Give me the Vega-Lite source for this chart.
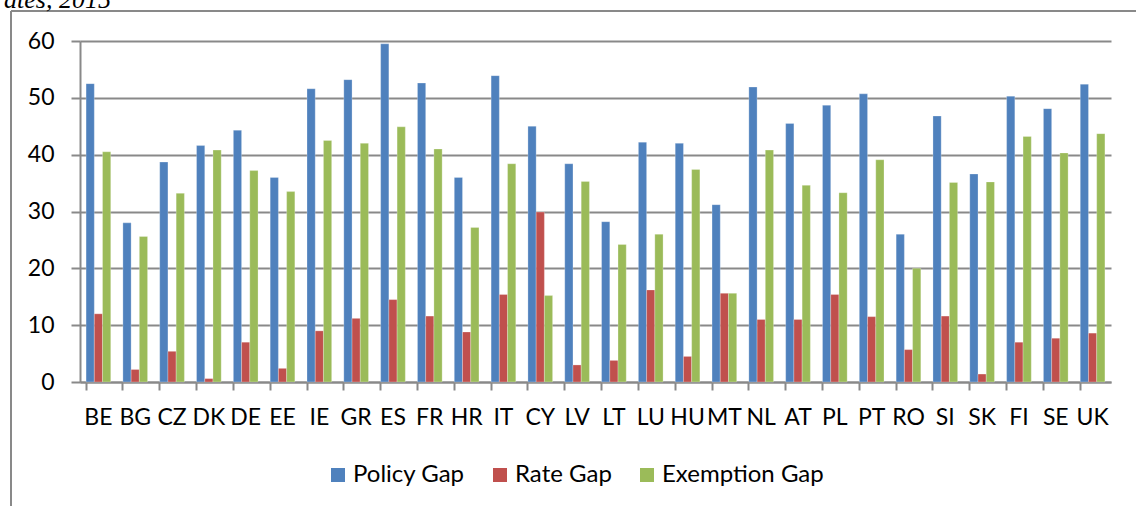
{
  "$schema": "https://vega.github.io/schema/vega-lite/v6.json",
  "autosize": {"type": "none"},
  "width": 1125,
  "height": 495,
  "padding": {"left": 11, "top": 11, "right": 0, "bottom": 0},
  "background": "white",
  "title": {
    "text": "ates, 2015",
    "anchor": "start",
    "frame": "group",
    "font": "Liberation Serif",
    "fontStyle": "italic",
    "fontWeight": "normal",
    "fontSize": 26,
    "color": "#000000",
    "baseline": "alphabetic",
    "offset": 6,
    "dx": -7,
    "dy": 29
  },
  "data": {
    "values": [
      {"country": "BE", "gap": "Policy Gap", "value": 52.5},
      {"country": "BE", "gap": "Rate Gap", "value": 12.0},
      {"country": "BE", "gap": "Exemption Gap", "value": 40.5},
      {"country": "BG", "gap": "Policy Gap", "value": 28.0},
      {"country": "BG", "gap": "Rate Gap", "value": 2.2},
      {"country": "BG", "gap": "Exemption Gap", "value": 25.6},
      {"country": "CZ", "gap": "Policy Gap", "value": 38.7},
      {"country": "CZ", "gap": "Rate Gap", "value": 5.4},
      {"country": "CZ", "gap": "Exemption Gap", "value": 33.2},
      {"country": "DK", "gap": "Policy Gap", "value": 41.6},
      {"country": "DK", "gap": "Rate Gap", "value": 0.6},
      {"country": "DK", "gap": "Exemption Gap", "value": 40.8},
      {"country": "DE", "gap": "Policy Gap", "value": 44.3},
      {"country": "DE", "gap": "Rate Gap", "value": 7.0},
      {"country": "DE", "gap": "Exemption Gap", "value": 37.2},
      {"country": "EE", "gap": "Policy Gap", "value": 36.0},
      {"country": "EE", "gap": "Rate Gap", "value": 2.4},
      {"country": "EE", "gap": "Exemption Gap", "value": 33.5},
      {"country": "IE", "gap": "Policy Gap", "value": 51.6},
      {"country": "IE", "gap": "Rate Gap", "value": 9.0},
      {"country": "IE", "gap": "Exemption Gap", "value": 42.5},
      {"country": "GR", "gap": "Policy Gap", "value": 53.2},
      {"country": "GR", "gap": "Rate Gap", "value": 11.2},
      {"country": "GR", "gap": "Exemption Gap", "value": 42.0},
      {"country": "ES", "gap": "Policy Gap", "value": 59.5},
      {"country": "ES", "gap": "Rate Gap", "value": 14.5},
      {"country": "ES", "gap": "Exemption Gap", "value": 44.9},
      {"country": "FR", "gap": "Policy Gap", "value": 52.6},
      {"country": "FR", "gap": "Rate Gap", "value": 11.6},
      {"country": "FR", "gap": "Exemption Gap", "value": 41.0},
      {"country": "HR", "gap": "Policy Gap", "value": 36.0},
      {"country": "HR", "gap": "Rate Gap", "value": 8.8},
      {"country": "HR", "gap": "Exemption Gap", "value": 27.2},
      {"country": "IT", "gap": "Policy Gap", "value": 53.9},
      {"country": "IT", "gap": "Rate Gap", "value": 15.4},
      {"country": "IT", "gap": "Exemption Gap", "value": 38.4},
      {"country": "CY", "gap": "Policy Gap", "value": 45.0},
      {"country": "CY", "gap": "Rate Gap", "value": 29.9},
      {"country": "CY", "gap": "Exemption Gap", "value": 15.2},
      {"country": "LV", "gap": "Policy Gap", "value": 38.4},
      {"country": "LV", "gap": "Rate Gap", "value": 3.0},
      {"country": "LV", "gap": "Exemption Gap", "value": 35.3},
      {"country": "LT", "gap": "Policy Gap", "value": 28.2},
      {"country": "LT", "gap": "Rate Gap", "value": 3.8},
      {"country": "LT", "gap": "Exemption Gap", "value": 24.2},
      {"country": "LU", "gap": "Policy Gap", "value": 42.2},
      {"country": "LU", "gap": "Rate Gap", "value": 16.2},
      {"country": "LU", "gap": "Exemption Gap", "value": 26.0},
      {"country": "HU", "gap": "Policy Gap", "value": 42.0},
      {"country": "HU", "gap": "Rate Gap", "value": 4.5},
      {"country": "HU", "gap": "Exemption Gap", "value": 37.4},
      {"country": "MT", "gap": "Policy Gap", "value": 31.2},
      {"country": "MT", "gap": "Rate Gap", "value": 15.6},
      {"country": "MT", "gap": "Exemption Gap", "value": 15.6},
      {"country": "NL", "gap": "Policy Gap", "value": 51.9},
      {"country": "NL", "gap": "Rate Gap", "value": 11.0},
      {"country": "NL", "gap": "Exemption Gap", "value": 40.8},
      {"country": "AT", "gap": "Policy Gap", "value": 45.5},
      {"country": "AT", "gap": "Rate Gap", "value": 11.0},
      {"country": "AT", "gap": "Exemption Gap", "value": 34.6},
      {"country": "PL", "gap": "Policy Gap", "value": 48.7},
      {"country": "PL", "gap": "Rate Gap", "value": 15.4},
      {"country": "PL", "gap": "Exemption Gap", "value": 33.3},
      {"country": "PT", "gap": "Policy Gap", "value": 50.7},
      {"country": "PT", "gap": "Rate Gap", "value": 11.5},
      {"country": "PT", "gap": "Exemption Gap", "value": 39.1},
      {"country": "RO", "gap": "Policy Gap", "value": 26.0},
      {"country": "RO", "gap": "Rate Gap", "value": 5.7},
      {"country": "RO", "gap": "Exemption Gap", "value": 20.0},
      {"country": "SI", "gap": "Policy Gap", "value": 46.8},
      {"country": "SI", "gap": "Rate Gap", "value": 11.6},
      {"country": "SI", "gap": "Exemption Gap", "value": 35.1},
      {"country": "SK", "gap": "Policy Gap", "value": 36.6},
      {"country": "SK", "gap": "Rate Gap", "value": 1.4},
      {"country": "SK", "gap": "Exemption Gap", "value": 35.2},
      {"country": "FI", "gap": "Policy Gap", "value": 50.3},
      {"country": "FI", "gap": "Rate Gap", "value": 7.0},
      {"country": "FI", "gap": "Exemption Gap", "value": 43.2},
      {"country": "SE", "gap": "Policy Gap", "value": 48.1},
      {"country": "SE", "gap": "Rate Gap", "value": 7.7},
      {"country": "SE", "gap": "Exemption Gap", "value": 40.3},
      {"country": "UK", "gap": "Policy Gap", "value": 52.4},
      {"country": "UK", "gap": "Rate Gap", "value": 8.6},
      {"country": "UK", "gap": "Exemption Gap", "value": 43.7}
    ]
  },
  "mark": {"type": "bar", "stroke": "white", "strokeWidth": 0.5, "strokeOpacity": 0.5},
  "encoding": {
    "x": {
      "field": "country",
      "type": "nominal",
      "sort": null,
      "scale": {"range": [69, 1100], "paddingInner": 0.33, "paddingOuter": 0.165},
      "axis": {
        "title": null,
        "offset": -124,
        "labelAngle": 0,
        "labelFont": "Lato",
        "labelFontSize": 23,
        "labelColor": "#000000",
        "labelPadding": 16,
        "labelBaseline": "top",
        "bandPosition": 0,
        "tickSize": 8,
        "tickWidth": 2,
        "tickColor": "#898989",
        "domainColor": "#898989",
        "domainWidth": 2
      }
    },
    "xOffset": {
      "field": "gap",
      "type": "nominal",
      "sort": ["Policy Gap", "Rate Gap", "Exemption Gap"],
      "scale": {"paddingInner": 0, "paddingOuter": 0}
    },
    "y": {
      "field": "value",
      "type": "quantitative",
      "scale": {"domain": [0, 60], "nice": false, "range": [371, 30]},
      "axis": {
        "title": null,
        "offset": -69,
        "values": [0, 10, 20, 30, 40, 50, 60],
        "labelFont": "Lato",
        "labelFontSize": 23,
        "labelColor": "#000000",
        "labelPadding": 17,
        "tickSize": 9,
        "tickWidth": 2,
        "tickColor": "#898989",
        "domainColor": "#898989",
        "domainWidth": 2,
        "grid": true,
        "gridColor": "#898989",
        "gridWidth": 2
      }
    },
    "color": {
      "field": "gap",
      "type": "nominal",
      "sort": ["Policy Gap", "Rate Gap", "Exemption Gap"],
      "scale": {
        "domain": ["Policy Gap", "Rate Gap", "Exemption Gap"],
        "range": ["#4F81BD", "#C0504D", "#9BBB59"]
      },
      "legend": {
        "title": null,
        "orient": "none",
        "legendX": 315,
        "legendY": 452,
        "direction": "horizontal",
        "symbolType": "square",
        "symbolSize": 196,
        "symbolStrokeWidth": 0,
        "symbolOpacity": 1,
        "labelFont": "Lato",
        "labelFontSize": 24,
        "labelLimit": 400,
        "labelColor": "#000000",
        "labelOffset": 3,
        "columnPadding": 23,
        "symbolOffset": 0
      }
    }
  },
  "config": {
    "view": {"stroke": "#898989", "strokeWidth": 2, "strokeDash": [1125, 1620, 495, 0]},
    "axis": {"labelOverlap": false}
  }
}
